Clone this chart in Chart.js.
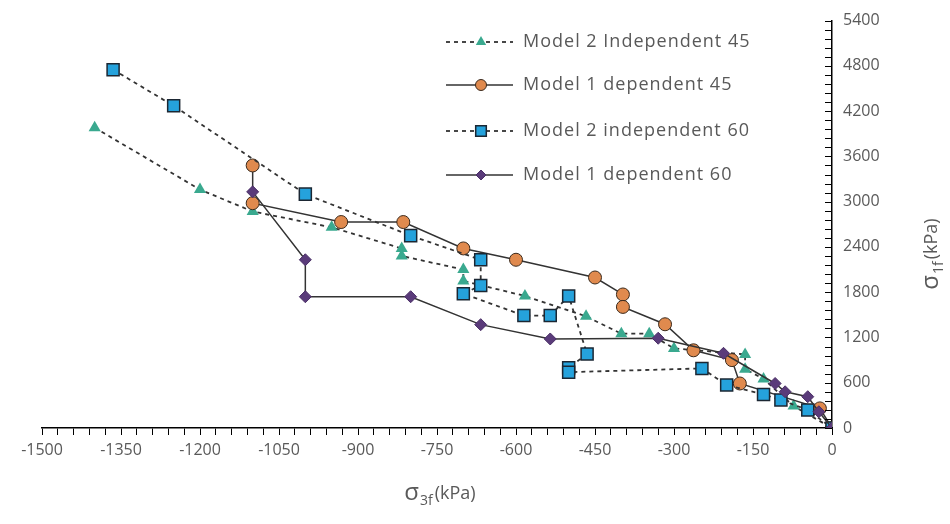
<!DOCTYPE html>
<html>
<head>
<meta charset="utf-8">
<script src="https://cdn.jsdelivr.net/npm/chart.js@4"></script>
<style>
  html, body { margin: 0; padding: 0; background: #fff; }
  #wrap { width: 950px; height: 524px; }
</style>
</head>
<body>
<div id="wrap"><canvas id="stressChart"></canvas></div>
<script>
// failure envelopes, sigma3f (x) vs sigma1f (y), kPa
const m2Ind45X = [-1400, -1200, -1100, -950, -817, -817, -700, -700, -583, -467, -400, -347, -300, -165, -165, -130, -73, 0];
const m2Ind45Y = [3980, 3160, 2870, 2660, 2380, 2280, 2100, 1950, 1750, 1480, 1250, 1250, 1055, 975, 780, 650, 290, 0];

const m1Dep45X = [-1100, -1100, -932, -814, -700, -600, -450, -397, -397, -317, -263, -190, -175, -23, 0];
const m1Dep45Y = [3480, 2980, 2730, 2730, 2380, 2230, 1995, 1770, 1605, 1375, 1030, 900, 590, 260, 0];

const m2Ind60X = [-1365, -1250, -1000, -800, -667, -667, -700, -585, -535, -500, -465, -500, -500, -247, -200, -130, -97, -46, 0];
const m2Ind60Y = [4750, 4270, 3100, 2550, 2230, 1890, 1780, 1490, 1490, 1750, 980, 800, 740, 790, 570, 445, 370, 240, 0];

const m1Dep60X = [-1100, -1000, -1000, -800, -667, -535, -330, -206, -108, -89, -46, -25, 0];
const m1Dep60Y = [3130, 2230, 1740, 1740, 1370, 1180, 1190, 990, 590, 480, 415, 215, 0];

const seriesNames = ['Model 2 Independent 45', 'Model 1 dependent 45', 'Model 2 independent 60', 'Model 1 dependent 60'];

const xMin = -1500, xMax = 0, xMajor = 150, xMinor = 30;
const yMin = 0, yMax = 5400, yMajor = 600, yMinor = 120;

const textGrey = '#595959';
const fontFamily = '"Open Sans", "Noto Sans", sans-serif';

const toPoints = (xs, ys) => xs.map((x, i) => ({ x: x, y: ys[i] }));

// legend, minor ticks on the value axis and the sigma titles
const decorations = {
  id: 'decorations',
  afterDraw(chart) {
    const ctx = chart.ctx;
    const xs = chart.scales.x, ys = chart.scales.y;
    const axisX = xs.getPixelForValue(0);

    ctx.save();
    ctx.strokeStyle = '#000';
    ctx.lineWidth = 1;
    for (let v = yMin; v <= yMax; v += yMinor) {
      const py = Math.round(ys.getPixelForValue(v)) + 0.5;
      ctx.beginPath();
      ctx.moveTo(axisX - 7, py);
      ctx.lineTo(axisX, py);
      ctx.stroke();
    }
    ctx.restore();

    // legend
    const rows = [42, 85, 131, 175];
    chart.data.datasets.forEach((ds, i) => {
      const y = rows[i];
      ctx.save();
      ctx.strokeStyle = ds.borderColor;
      ctx.lineWidth = ds.borderWidth;
      ctx.setLineDash(ds.borderDash || []);
      ctx.beginPath();
      ctx.moveTo(446, y);
      ctx.lineTo(513, y);
      ctx.stroke();
      ctx.setLineDash([]);
      ctx.fillStyle = ds.pointBackgroundColor;
      ctx.strokeStyle = ds.pointBorderColor;
      ctx.lineWidth = ds.pointBorderWidth;
      Chart.helpers.drawPoint(ctx, {
        pointStyle: ds.pointStyle, radius: ds.pointRadius - 1, rotation: 0, borderWidth: ds.pointBorderWidth
      }, 481, y);
      ctx.fillStyle = textGrey;
      ctx.font = '18px ' + fontFamily;
      ctx.letterSpacing = '1px';
      ctx.textBaseline = 'middle';
      ctx.textAlign = 'left';
      ctx.fillText(ds.label, 523, y);
      ctx.restore();
    });

    // axis titles with subscripts
    const drawSigma = (sub, cx, cy, rotate) => {
      ctx.save();
      ctx.translate(cx, cy);
      if (rotate) ctx.rotate(-Math.PI / 2);
      ctx.fillStyle = textGrey;
      ctx.textBaseline = 'middle';
      ctx.textAlign = 'left';
      const sig = '24px ' + fontFamily, big = '18px ' + fontFamily, small = '14px ' + fontFamily;
      ctx.font = sig;
      const w1 = ctx.measureText('σ').width + 1;
      ctx.font = big;
      const w3 = ctx.measureText('(kPa)').width;
      ctx.font = small;
      const w2 = ctx.measureText(sub).width + 2;
      let x = -(w1 + w2 + w3) / 2;
      ctx.font = sig;
      ctx.fillText('σ', x, -1);
      x += w1;
      ctx.font = small;
      ctx.fillText(sub, x, 7);
      x += w2;
      ctx.font = big;
      ctx.fillText('(kPa)', x, 0);
      ctx.restore();
    };
    drawSigma('3f', 440, 494, false);
    drawSigma('1f', 932, 254, true);
  }
};

const datasets = [
  {
    label: seriesNames[0],
    data: toPoints(m2Ind45X, m2Ind45Y),
    borderColor: '#333333', borderWidth: 1.8, borderDash: [4, 4],
    pointStyle: 'triangle', pointRadius: 7,
    pointBackgroundColor: '#3aa98f', pointBorderColor: '#3aa98f', pointBorderWidth: 0,
    order: 4
  },
  {
    label: seriesNames[1],
    data: toPoints(m1Dep45X, m1Dep45Y),
    borderColor: '#333333', borderWidth: 1.5,
    pointStyle: 'circle', pointRadius: 6.5,
    pointBackgroundColor: '#e08a4e', pointBorderColor: '#3b2a1c', pointBorderWidth: 1,
    order: 3
  },
  {
    label: seriesNames[2],
    data: toPoints(m2Ind60X, m2Ind60Y),
    borderColor: '#333333', borderWidth: 1.8, borderDash: [4, 4],
    pointStyle: 'rect', pointRadius: 8.5,
    pointBackgroundColor: '#25a2dc', pointBorderColor: '#1b2733', pointBorderWidth: 1.5,
    order: 2
  },
  {
    label: seriesNames[3],
    data: toPoints(m1Dep60X, m1Dep60Y),
    borderColor: '#333333', borderWidth: 1.5,
    pointStyle: 'rectRot', pointRadius: 6,
    pointBackgroundColor: '#5a3b7a', pointBorderColor: '#4a2f66', pointBorderWidth: 1,
    order: 1
  }
];
datasets.forEach(ds => { ds.showLine = true; ds.fill = false; ds.tension = 0; });

new Chart(document.getElementById('stressChart'), {
  type: 'scatter',
  data: { datasets: datasets },
  options: {
    responsive: true,
    maintainAspectRatio: false,
    animation: false,
    layout: { padding: { left: 42, top: 18, right: 0, bottom: 0 } },
    plugins: { legend: { display: false }, tooltip: { enabled: false } },
    scales: {
      x: {
        type: 'linear', position: 'bottom', min: xMin, max: xMax,
        grid: { drawOnChartArea: false, drawTicks: true, tickLength: 7, color: '#000', tickWidth: 1 },
        border: { display: true, color: '#000', width: 1.5 },
        ticks: {
          stepSize: xMinor, autoSkip: false, maxRotation: 0, padding: 6,
          color: textGrey, font: { family: fontFamily, size: 16 },
          callback: v => (Math.round(v) % xMajor === 0 ? String(Math.round(v)) : '')
        },
        afterFit: s => { s.height = 96; }
      },
      y: {
        type: 'linear', position: 'right', min: yMin, max: yMax,
        grid: { drawOnChartArea: false, drawTicks: false },
        border: { display: true, color: '#000', width: 1.5 },
        ticks: {
          stepSize: yMajor, padding: 11,
          color: textGrey, font: { family: fontFamily, size: 16 },
          callback: v => String(v)
        },
        afterFit: s => { s.width = 118; }
      }
    }
  },
  plugins: [decorations]
});
</script>
</body>
</html>
